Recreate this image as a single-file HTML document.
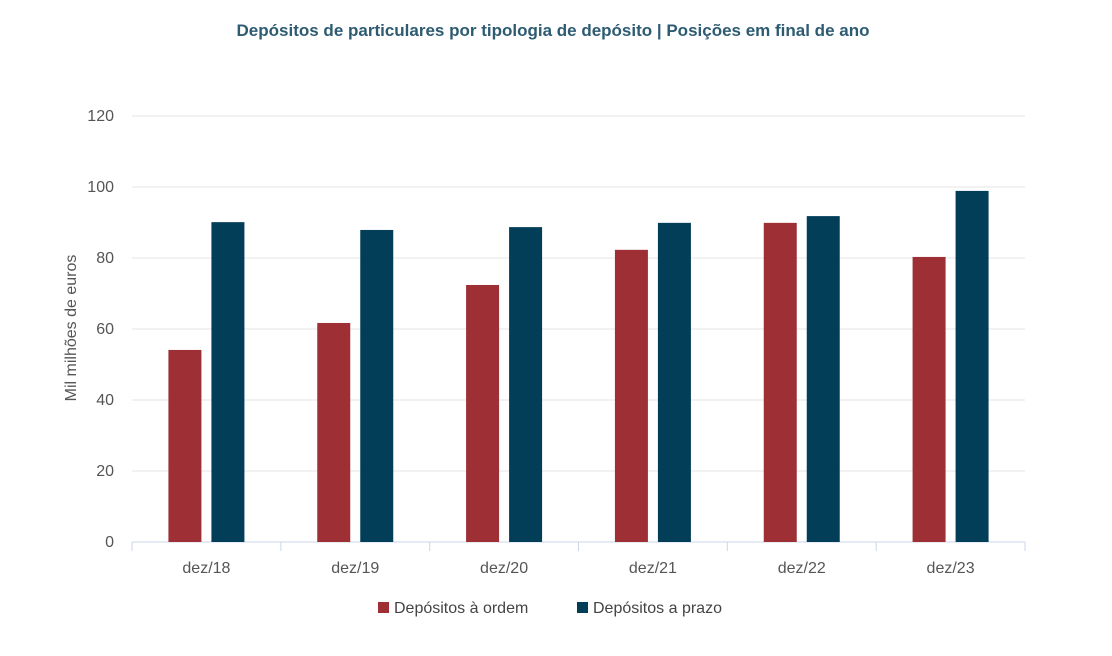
<!DOCTYPE html>
<html><head><meta charset="utf-8"><style>
body{margin:0;background:#fff;font-family:"Liberation Sans",sans-serif}
</style></head><body>
<svg width="1112" height="651" xmlns="http://www.w3.org/2000/svg">
<text x="553" y="36" text-anchor="middle" font-size="17" font-weight="bold" fill="#2d5b72">Depósitos de particulares por tipologia de depósito | Posições em final de ano</text>
<g id="grid"></g><g id="bars"></g><g id="xlab"></g>
<text transform="translate(76,328) rotate(-90)" text-anchor="middle" font-size="16" fill="#555">Mil milhões de euros</text>
<g>
<rect x="378" y="602" width="11" height="11" fill="#9e2f35"/>
<text x="394" y="613" font-size="16" fill="#444">Depósitos à ordem</text>
<rect x="577" y="602" width="11" height="11" fill="#033e59"/>
<text x="593" y="613" font-size="16" fill="#444">Depósitos a prazo</text>
</g>
</svg>
<script>
const categories=["dez/18","dez/19","dez/20","dez/21","dez/22","dez/23"];
const ordem=[54.1,61.7,72.4,82.3,89.9,80.3];
const prazo=[90.1,87.9,88.7,89.9,91.8,98.9];
const yTicks=[0,20,40,60,80,100,120];
const NS="http://www.w3.org/2000/svg";
const x0=132,x1=1025,yBase=542,yTop=116,yMax=120;
const y=v=>yBase-(v/yMax)*(yBase-yTop);
const bw=(x1-x0)/categories.length;
function mk(tag,attrs,parent){const e=document.createElementNS(NS,tag);for(const k in attrs)e.setAttribute(k,attrs[k]);parent.appendChild(e);return e;}
const grid=document.getElementById('grid'),bars=document.getElementById('bars'),xl=document.getElementById('xlab');
yTicks.forEach(t=>{
 const l=mk('line',{x1:x0,x2:x1,y1:y(t),y2:y(t),stroke:t===0?'#ccd6eb':'#e6e6e6','stroke-width':1},grid);
 
 
 const tx=mk('text',{x:114,y:y(t)+5,'text-anchor':'end','font-size':16,fill:'#555'},grid);
 tx.textContent=t;
 
 
});
for(let i=0;i<=categories.length;i++){
 const tk=mk('line',{x1:x0+i*bw,x2:x0+i*bw,y1:yBase,y2:yBase+9,stroke:'#ccd6eb'},grid);
 
 
}
categories.forEach((c,i)=>{
 const cx=x0+bw*(i+0.5);
 const r=mk('rect',{x:cx-38,y:y(ordem[i]),width:33,height:yBase-y(ordem[i]),fill:'#9e2f35'},bars);
 
 
 const b=mk('rect',{x:cx+5,y:y(prazo[i]),width:33,height:yBase-y(prazo[i]),fill:'#033e59'},bars);
 
 
 const t=mk('text',{x:cx,y:573,'text-anchor':'middle','font-size':16,fill:'#555'},xl);
 t.textContent=c;
 
 
});
</script>
</body></html>
